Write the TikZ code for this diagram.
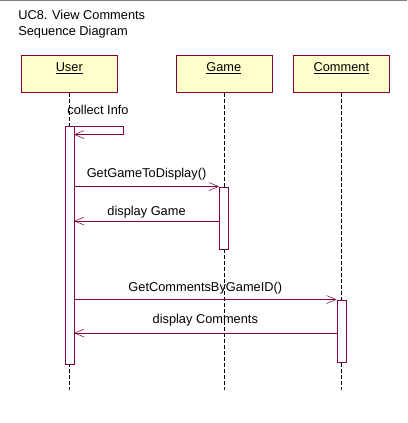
\documentclass[tikz,border=0pt]{standalone}
\usepackage{fontspec}
\setmainfont{Liberation Sans}
\usetikzlibrary{arrows.meta,positioning}
\definecolor{roseline}{RGB}{128,0,64}
\definecolor{rosefill}{RGB}{255,255,204}
\tikzset{%
  >={Straight Barb[length=7pt,width=6pt]},
  % Specifications for style of nodes:
      object/.style = {rectangle, draw=roseline, fill=rosefill, inner sep=0pt,
                       minimum width=72pt, text height=12pt, text depth=15.75pt,
                       font=\fontsize{9.6}{11}\selectfont},
      actbar/.style = {rectangle, draw=roseline, fill=white, inner sep=0pt,
                       minimum width=6.75pt},
    lifeline/.style = {dashed, dash pattern=on 3pt off 1.5pt, thin},
     message/.style = {draw=roseline, ->},
    msglabel/.style = {anchor=base, inner sep=0pt, font=\fontsize{9.6}{11}\selectfont},
}
\begin{document}
\begin{tikzpicture}[x=0.75pt, y=-0.75pt]
  \useasboundingbox (0,0) rectangle (407,423);
  \fill[white] (0,0) rectangle (407,423);
  \draw[gray, line width=1.5pt] (0,0) -- (407,0);

  \node (title1) [msglabel, anchor=base west] at (18,19.3) {UC8. View Comments};
  \node (title2) [msglabel, anchor=base west] at (18,35.3) {Sequence Diagram};

  \node (user)    [object, anchor=north west]        at (21,55) {\underline{User}};
  \node (game)    [object, right=43.5pt of user]     {\underline{Game}};
  \node (comment) [object, right=15.75pt of game]    {\underline{Comment}};

  \coordinate (end) at (0,390);
  \draw[lifeline] (user.south)    -- (user.south |- end);
  \draw[lifeline] (game.south)    -- (game.south |- end);
  \draw[lifeline] (comment.south) -- (comment.south |- end);

  \node (userbar)    [actbar, below=24.75pt of user, minimum height=178.5pt]   {};
  \node (gamebar)    [actbar, below=70.5pt of game, minimum height=46.5pt]     {};
  \node (commentbar) [actbar, below=155.25pt of comment, minimum height=46.5pt] {};

  \coordinate (back1) at (0,221);
  \coordinate (back2) at (0,333);

  \draw[message] ([yshift=-0.75pt]userbar.north east) -- ++(49.5,0) -- ++(0,8)
                 -- ([yshift=-6.75pt]userbar.north east);
  \node (collect) [msglabel] at (98,115) {collect Info};

  \draw[message] (gamebar.north west -| userbar.east) -- (gamebar.north west)
        node[msglabel, midway, yshift=6.5pt] {GetGameToDisplay()};
  \draw[message] (gamebar.west |- back1) -- (userbar.east |- back1)
        node[msglabel, midway, yshift=4pt] {display Game};
  \draw[message] (commentbar.north west -| userbar.east) -- (commentbar.north west)
        node[msglabel, midway, yshift=6pt] {GetCommentsByGameID()};
  \draw[message] (commentbar.west |- back2) -- (userbar.east |- back2)
        node[msglabel, midway, yshift=7.5pt] {display Comments};
\end{tikzpicture}
\end{document}
